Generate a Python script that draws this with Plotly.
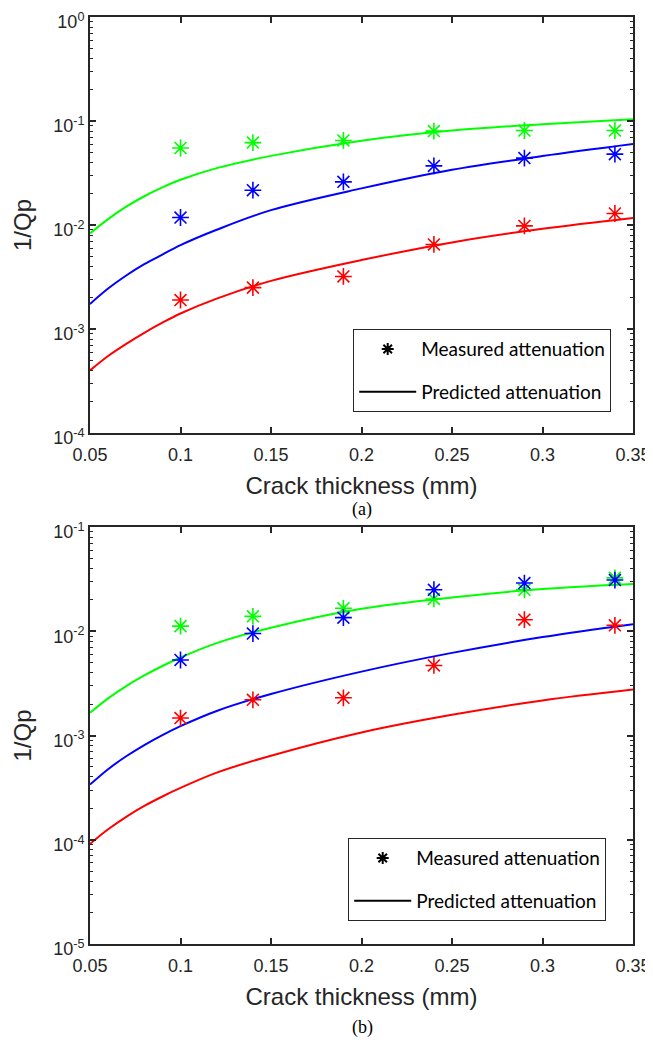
import plotly.graph_objects as go

# ---------- data ----------
x_meas = [0.10, 0.14, 0.19, 0.24, 0.29, 0.34]
x_pred = [0.05, 0.06, 0.07, 0.08, 0.09, 0.10, 0.12, 0.15, 0.20, 0.25, 0.30, 0.35]

# panel (a)
a_green_meas = [0.055, 0.062, 0.065, 0.080, 0.081, 0.081]
a_blue_meas = [0.0118, 0.0216, 0.026, 0.037, 0.044, 0.048]
a_red_meas = [0.0019, 0.0025, 0.0032, 0.0065, 0.0098, 0.0129]
a_green_pred = [0.0083, 0.0114, 0.0150, 0.0189, 0.0230, 0.0272, 0.0352, 0.0462, 0.0647, 0.081, 0.093, 0.104]
a_blue_pred = [0.00174, 0.00245, 0.00327, 0.0042, 0.0052, 0.0064, 0.0090, 0.0139, 0.0225, 0.034, 0.046, 0.060]
a_red_pred = [0.0004, 0.00055, 0.00072, 0.00092, 0.00115, 0.00141, 0.00196, 0.0029, 0.0046, 0.0068, 0.0092, 0.0117]

# panel (b)
b_green_meas = [0.0112, 0.0139, 0.0166, 0.0204, 0.025, 0.0325]
b_blue_meas = [0.0053, 0.0095, 0.0135, 0.025, 0.029, 0.031]
b_red_meas = [0.00147, 0.0022, 0.0023, 0.0047, 0.0129, 0.0114]
b_green_pred = [0.00165, 0.00227, 0.00298, 0.00377, 0.00464, 0.0056, 0.0077, 0.0108, 0.0164, 0.0211, 0.0254, 0.0284]
b_blue_pred = [0.000338, 0.000475, 0.000632, 0.00081, 0.00101, 0.00123, 0.00172, 0.0025, 0.0041, 0.0062, 0.0088, 0.0117]
b_red_pred = [0.000091, 0.000126, 0.000166, 0.000211, 0.00026, 0.000314, 0.00044, 0.00064, 0.00107, 0.00158, 0.00217, 0.00276]

x_ticks = [0.05, 0.1, 0.15, 0.2, 0.25, 0.3, 0.35]
x_ticktext = ["0.05", "0.1", "0.15", "0.2", "0.25", "0.3", "0.35"]
a_yticks_exp = [-4, -3, -2, -1, 0]
b_yticks_exp = [-5, -4, -3, -2, -1]

GREEN, BLUE, RED = "#00FF00", "#0000FF", "#FF0000"
AX = "#262626"

# page is 653x1040, the HTML body adds an 8px margin, so the figure is drawn 8px smaller
OFF = 8
W, H = 653 - OFF, 1040 - OFF
TICKFONT = dict(family="Liberation Sans, Arial", size=18, color=AX)
TITLEFONT = dict(family="Liberation Sans, Arial", size=24, color=AX)

fig = go.Figure()

panels = [
    ("x", "y", a_green_meas, a_blue_meas, a_red_meas, a_green_pred, a_blue_pred, a_red_pred, "legend"),
    ("x2", "y2", b_green_meas, b_blue_meas, b_red_meas, b_green_pred, b_blue_pred, b_red_pred, "legend2"),
]

for xa, ya, gm, bm, rm, gp, bp, rp, lg in panels:
    for vals, col in [(gp, GREEN), (bp, BLUE), (rp, RED)]:
        fig.add_trace(go.Scatter(x=x_pred, y=vals, mode="lines",
                                 line=dict(color=col, width=2, shape="spline", smoothing=1.0),
                                 xaxis=xa, yaxis=ya, showlegend=False, hoverinfo="skip"))
    for vals, col in [(gm, GREEN), (bm, BLUE), (rm, RED)]:
        fig.add_trace(go.Scatter(x=x_meas, y=vals, mode="markers",
                                 marker=dict(symbol="asterisk-open", size=14, color=col,
                                             line=dict(color=col, width=1.6)),
                                 xaxis=xa, yaxis=ya, showlegend=False))
    # legend entries
    fig.add_trace(go.Scatter(x=[None], y=[None], mode="markers", name="Measured attenuation",
                             marker=dict(symbol="asterisk-open", size=10, color="black",
                                         line=dict(color="black", width=2)),
                             xaxis=xa, yaxis=ya, legend=lg, legendgroup=lg + "m"))
    fig.add_trace(go.Scatter(x=[None], y=[None], mode="lines", name="Predicted attenuation",
                             line=dict(color="black", width=2),
                             xaxis=xa, yaxis=ya, legend=lg, legendgroup=lg + "p"))


def minor_vals(exps):
    out = []
    for e in exps[:-1]:
        for m in range(2, 10):
            out.append(m * 10.0 ** e)
    return out


# target page-pixel geometry
AX_L, AX_R = 90, 633
A_TOP, A_BOT = 17, 433
B_TOP, B_BOT = 527, 944

ML = AX_L - OFF
MR = W - (AX_R - OFF)
MT = A_TOP - OFF
MB = H - (B_BOT - OFF)
PH = H - MT - MB
PW = W - ML - MR


def py(pix):
    # page pixel y -> plot-area fraction
    return (B_BOT - pix) / PH


def px(pix):
    return (pix - AX_L) / PW


a_ydom = [py(A_BOT), 1.0]
b_ydom = [0.0, py(B_TOP)]

xcommon = dict(range=[0.05, 0.35], tickvals=x_ticks, ticktext=x_ticktext, ticks="inside", ticklen=6,
               tickwidth=1.5, tickcolor=AX, showline=True, linecolor=AX, linewidth=2,
               mirror="ticks", showgrid=False, zeroline=False, tickfont=TICKFONT, domain=[0, 1],
               ticklabelstandoff=4, automargin=False, ticklabeloverflow="allow")


def ycommon(exps, dom, anchor):
    return dict(type="log", range=[exps[0], exps[-1]], tickvals=[10.0 ** e for e in exps],
                ticktext=["10<sup>%d</sup>" % e for e in exps], ticks="inside", ticklen=6, tickwidth=1.5,
                tickcolor=AX, showline=True, linecolor=AX, linewidth=2, mirror="ticks",
                showgrid=False, zeroline=False, tickfont=TICKFONT, domain=dom, anchor=anchor,
                automargin=False, ticklabeloverflow="allow", ticklabelshift=5,
                minor=dict(tickmode="array", tickvals=minor_vals(exps), ticks="inside", ticklen=3,
                           tickwidth=1.2, tickcolor=AX, showgrid=False),
                title=dict(text="1/Qp", font=TITLEFONT, standoff=15))


legend_common = dict(bgcolor="white", bordercolor=AX, borderwidth=1.2,
                     font=dict(family="Lato, Open Sans", size=19, color="black"),
                     tracegroupgap=15, itemwidth=57, xanchor="left", yanchor="top")

fig.update_layout(
    width=W, height=H, margin=dict(l=ML, r=MR, t=MT, b=MB),
    paper_bgcolor="white", plot_bgcolor="white",
    xaxis=dict(**xcommon, anchor="y", title=dict(text="Crack thickness (mm)", font=TITLEFONT, standoff=14)),
    yaxis=ycommon(a_yticks_exp, a_ydom, "x"),
    xaxis2=dict(**xcommon, anchor="y2", title=dict(text="Crack thickness (mm)", font=TITLEFONT, standoff=14)),
    yaxis2=ycommon(b_yticks_exp, b_ydom, "x2"),
    legend=dict(**legend_common, x=px(353), y=py(329)),
    legend2=dict(**legend_common, x=px(348), y=py(838)),
    annotations=[
        dict(text="(a)", x=px(362), y=py(510), xref="paper", yref="paper", showarrow=False,
             xanchor="center", yanchor="middle",
             font=dict(family="Liberation Serif, Times New Roman", size=18, color="black")),
        dict(text="(b)", x=px(362), y=py(1027), xref="paper", yref="paper", showarrow=False,
             xanchor="center", yanchor="middle",
             font=dict(family="Liberation Serif, Times New Roman", size=18, color="black")),
    ],
)

fig.write_html("out.html")
